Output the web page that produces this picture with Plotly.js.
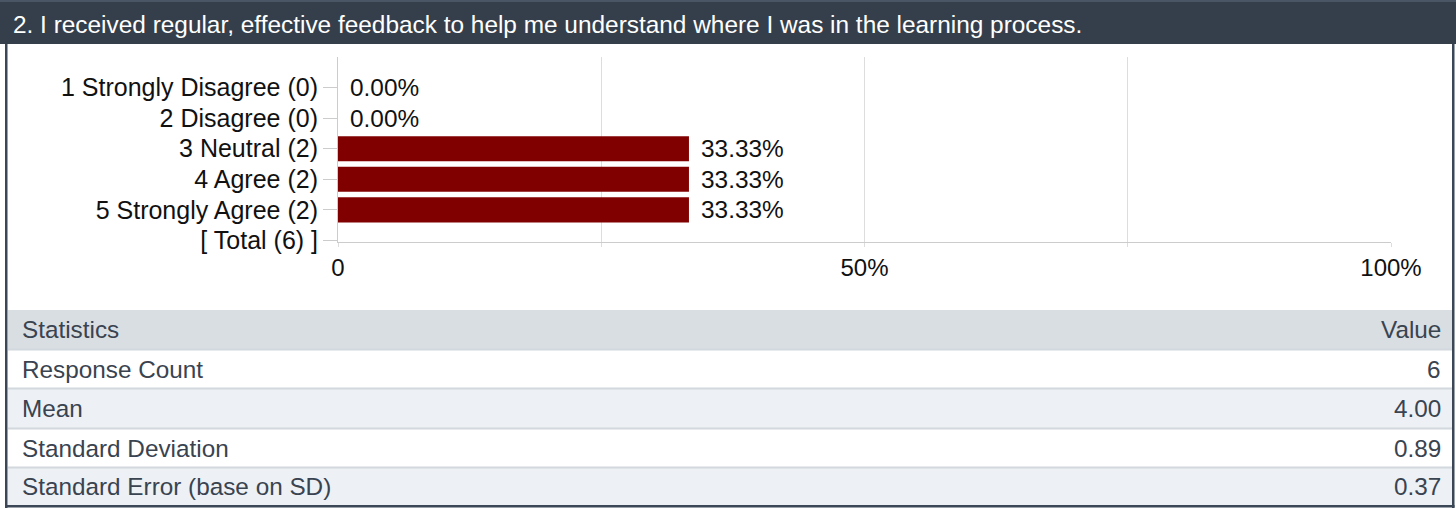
<!DOCTYPE html>
<html>
<head>
<meta charset="utf-8">
<script src="https://cdn.plot.ly/plotly-3.0.1.min.js"></script>
<style>
  html, body { margin: 0; padding: 0; background: #ffffff; }
  #chart { width: 1456px; height: 508px; }
</style>
</head>
<body>
<div id="chart"></div>
<script>
// ---- Data ----
const titleText = '2. I received regular, effective feedback to help me understand where I was in the learning process.';
const categories = ['1 Strongly Disagree (0)', '2 Disagree (0)', '3 Neutral (2)', '4 Agree (2)', '5 Strongly Agree (2)', '[ Total (6) ]'];
const percents = [0, 0, 33.33, 33.33, 33.33, null];
const pctLabels = ['0.00%', '0.00%', '33.33%', '33.33%', '33.33%', ''];
const xTickVals = [0, 25, 50, 75, 100];
const xTickText = ['0', '', '50%', '', '100%'];
const tableHeader = ['Statistics', 'Value'];
const statNames = ['Response Count', 'Mean', 'Standard Deviation', 'Standard Error (base on SD)'];
const statValues = ['6', '4.00', '0.89', '0.37'];

// ---- Layout geometry (pixels) ----
const W = 1456, H = 508;
const L = 338, R = 1391, T = 57, B = 242;
const pw = R - L, ph = B - T;
const px = x => (x - L) / pw;
const py = y => (B - y) / ph;
const FONT = '"Liberation Sans", Arial, Helvetica, sans-serif';

const shapes = [];
const annotations = [];

// header band
shapes.push({type: 'rect', xref: 'paper', yref: 'paper', x0: px(0), x1: px(W), y0: py(0), y1: py(44), fillcolor: '#353f4c', line: {width: 0}, layer: 'below'});
shapes.push({type: 'rect', xref: 'paper', yref: 'paper', x0: px(0), x1: px(W), y0: py(0), y1: py(2), fillcolor: '#4a5565', line: {width: 0}, layer: 'below'});
// borders
shapes.push({type: 'rect', xref: 'paper', yref: 'paper', x0: px(5), x1: px(7.5), y0: py(44), y1: py(H), fillcolor: '#3b4656', line: {width: 0}, layer: 'above'});
shapes.push({type: 'rect', xref: 'paper', yref: 'paper', x0: px(1452), x1: px(1454.5), y0: py(44), y1: py(H), fillcolor: '#3b4656', line: {width: 0}, layer: 'above'});
shapes.push({type: 'rect', xref: 'paper', yref: 'paper', x0: px(5), x1: px(1454.5), y0: py(505), y1: py(507.5), fillcolor: '#3b4656', line: {width: 0}, layer: 'above'});

// table
const tX0 = 8, tX1 = 1452;
const rowTops = [310, 350, 389, 429, 468];
const rowBottoms = [349, 388, 428, 467, 505];
const rowFills = ['#d8dee2', '#ffffff', '#edf1f5', '#ffffff', '#edf1f5'];
const rowsText = [[tableHeader[0], tableHeader[1]]].concat(statNames.map((n, i) => [n, statValues[i]]));
rowsText.forEach((r, i) => {
  shapes.push({type: 'rect', xref: 'paper', yref: 'paper', x0: px(tX0), x1: px(tX1), y0: py(rowTops[i]), y1: py(rowBottoms[i]), fillcolor: rowFills[i], line: {width: 0}, layer: 'below'});
  if (i > 0) {
    shapes.push({type: 'rect', xref: 'paper', yref: 'paper', x0: px(tX0), x1: px(tX1), y0: py(rowTops[i] - 1.5), y1: py(rowTops[i] + 0.5), fillcolor: '#d2d8dd', line: {width: 0}, layer: 'below'});
  }
  const cy = (rowTops[i] + rowBottoms[i]) / 2;
  annotations.push({xref: 'paper', yref: 'paper', x: px(20), y: py(cy), xanchor: 'left', yanchor: 'middle', text: r[0], showarrow: false, font: {family: FONT, size: 24.3, color: '#3a4350'}});
  annotations.push({xref: 'paper', yref: 'paper', x: px(1443), y: py(cy), xanchor: 'right', yanchor: 'middle', text: r[1], showarrow: false, font: {family: FONT, size: 24.3, color: '#3a4350'}});
});

// percentage labels next to bars
categories.forEach((c, i) => {
  if (percents[i] === null) return;
  annotations.push({xref: 'x', yref: 'y', x: percents[i], y: c, xanchor: 'left', yanchor: 'middle', xshift: 10, text: pctLabels[i], showarrow: false, font: {family: FONT, size: 24.4, color: '#111111'}});
});

const traces = [{
  type: 'bar',
  orientation: 'h',
  x: percents,
  y: categories,
  marker: {color: '#800000', line: {width: 0}},
  hoverinfo: 'skip'
}];

const layout = {
  width: W, height: H,
  margin: {l: L, r: W - R, t: T, b: H - B, pad: 0},
  paper_bgcolor: '#ffffff',
  plot_bgcolor: '#ffffff',
  showlegend: false,
  bargap: 0.18,
  font: {family: FONT, size: 24, color: '#111111'},
  title: {
    text: titleText,
    xref: 'container', yref: 'container',
    x: 13 / W, xanchor: 'left',
    y: 1 - 24 / H, yanchor: 'middle',
    font: {family: FONT, size: 24.4, color: '#ffffff'},
    pad: {t: 0, b: 0, l: 0, r: 0}
  },
  xaxis: {
    range: [0, 100],
    tickvals: xTickVals,
    ticktext: xTickText,
    showgrid: true,
    gridcolor: '#dddddd',
    gridwidth: 1,
    zeroline: false,
    showline: true,
    linecolor: '#cccccc',
    linewidth: 1,
    ticks: 'outside',
    ticklen: 4,
    tickcolor: '#dddddd',
    tickfont: {family: FONT, size: 24, color: '#111111'},
    fixedrange: true
  },
  yaxis: {
    type: 'category',
    categoryorder: 'array',
    categoryarray: categories,
    range: [5.05, -1],
    showgrid: false,
    zeroline: false,
    showline: true,
    linecolor: '#cccccc',
    linewidth: 1,
    ticks: 'outside',
    ticklen: 14,
    tickcolor: '#cccccc',
    tickfont: {family: FONT, size: 25, color: '#111111'},
    fixedrange: true
  },
  shapes: shapes,
  annotations: annotations
};

Plotly.newPlot('chart', traces, layout, {displayModeBar: false, staticPlot: true});
</script>
</body>
</html>
